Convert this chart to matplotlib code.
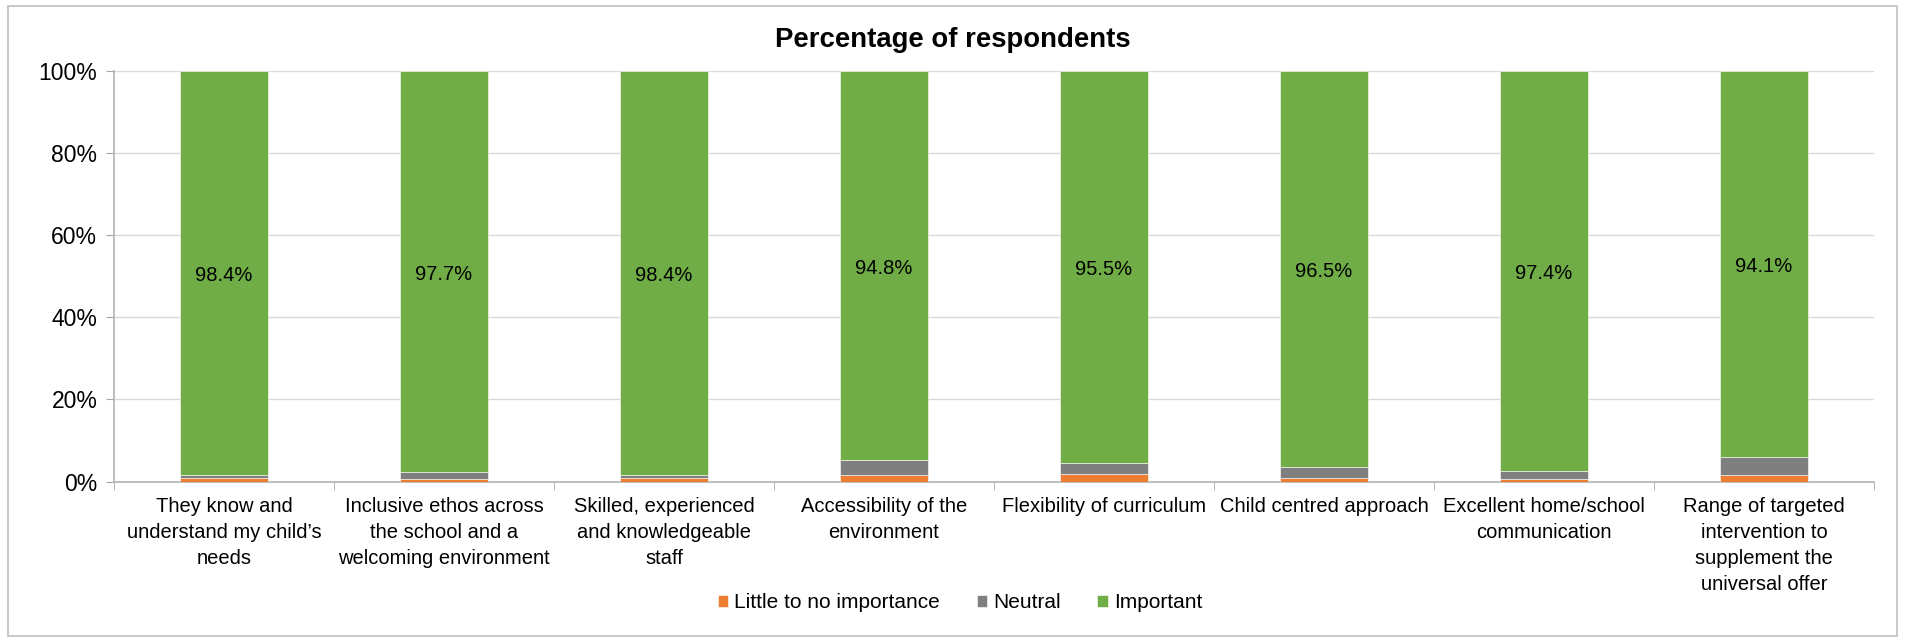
import matplotlib.pyplot as plt
import matplotlib.patches as patches
import numpy as np

plt.rcParams['font.family'] = ['Liberation Sans', 'DejaVu Sans']

categories = ["They know and\nunderstand my child\u2019s\nneeds",
              "Inclusive ethos across\nthe school and a\nwelcoming environment",
              "Skilled, experienced\nand knowledgeable\nstaff",
              "Accessibility of the\nenvironment",
              "Flexibility of curriculum",
              "Child centred approach",
              "Excellent home/school\ncommunication",
              "Range of targeted\nintervention to\nsupplement the\nuniversal offer"]
little = [1.0, 0.7, 1.0, 1.6, 1.9, 0.9, 0.7, 1.7]
neutral = [0.6, 1.6, 0.6, 3.6, 2.6, 2.6, 1.9, 4.2]
important = [98.4, 97.7, 98.4, 94.8, 95.5, 96.5, 97.4, 94.1]
series_names = ["Little to no importance", "Neutral", "Important"]
colors = ["#ED7D31", "#7F7F7F", "#70AD47"]

fig = plt.figure(figsize=(19.05, 6.42), dpi=100)
ax = fig.add_axes([0.0598, 0.2497, 0.9239, 0.6402])

x = np.arange(len(categories))
w = 0.4
bottom = np.zeros(len(categories))
bars = []
for vals, name, c in zip([little, neutral, important], series_names, colors):
    b = ax.bar(x, vals, width=w, bottom=bottom, color=c, label=name,
               edgecolor='white', linewidth=0.4, zorder=3)
    bars.append(b)
    bottom = bottom + np.array(vals)

ax.bar_label(bars[2], labels=['%.1f%%' % v for v in important],
             label_type='center', fontsize=14.5, padding=-2)

ax.set_ylim(0, 100)
ax.set_xlim(-0.5, len(categories) - 0.5)
ax.set_yticks(np.arange(0, 101, 20))
ax.set_yticklabels(['%d%%' % v for v in range(0, 101, 20)], fontsize=16.5)
ax.yaxis.grid(True, color='#D9D9D9', linewidth=1, zorder=0)

ax.set_xticks(x)
ax.set_xticklabels(categories, fontsize=14.5, va='top', linespacing=1.46)
ax.tick_params(axis='x', which='major', length=0, pad=11)
ax.set_xticks(np.arange(-0.5, len(categories)), minor=True)
ax.tick_params(axis='x', which='minor', length=6, color='#A6A6A6', direction='out')
ax.tick_params(axis='y', length=6, color='#A6A6A6', pad=6)

for s in ['top', 'right']:
    ax.spines[s].set_visible(False)
for s in ['left', 'bottom']:
    ax.spines[s].set_color('#B3B3B3')
    ax.spines[s].set_linewidth(1.2)

fig.text(0.5, 1 - 40 / 642, "Percentage of respondents", ha='center', va='center',
         fontsize=19.8, fontweight='bold')

fig.legend(loc='center', bbox_to_anchor=(0.504, 1 - 603 / 642), ncol=3, frameon=False,
           fontsize=15, handlelength=0.5, handleheight=0.5, columnspacing=1.75,
           handletextpad=0.3)

fig.patches.append(patches.Rectangle((8 / 1905, 6 / 642), 1889 / 1905, 630 / 642,
                                     transform=fig.transFigure, fill=False,
                                     edgecolor='#BFBFBF', linewidth=1.2))

fig.savefig('out.png', dpi=100)
